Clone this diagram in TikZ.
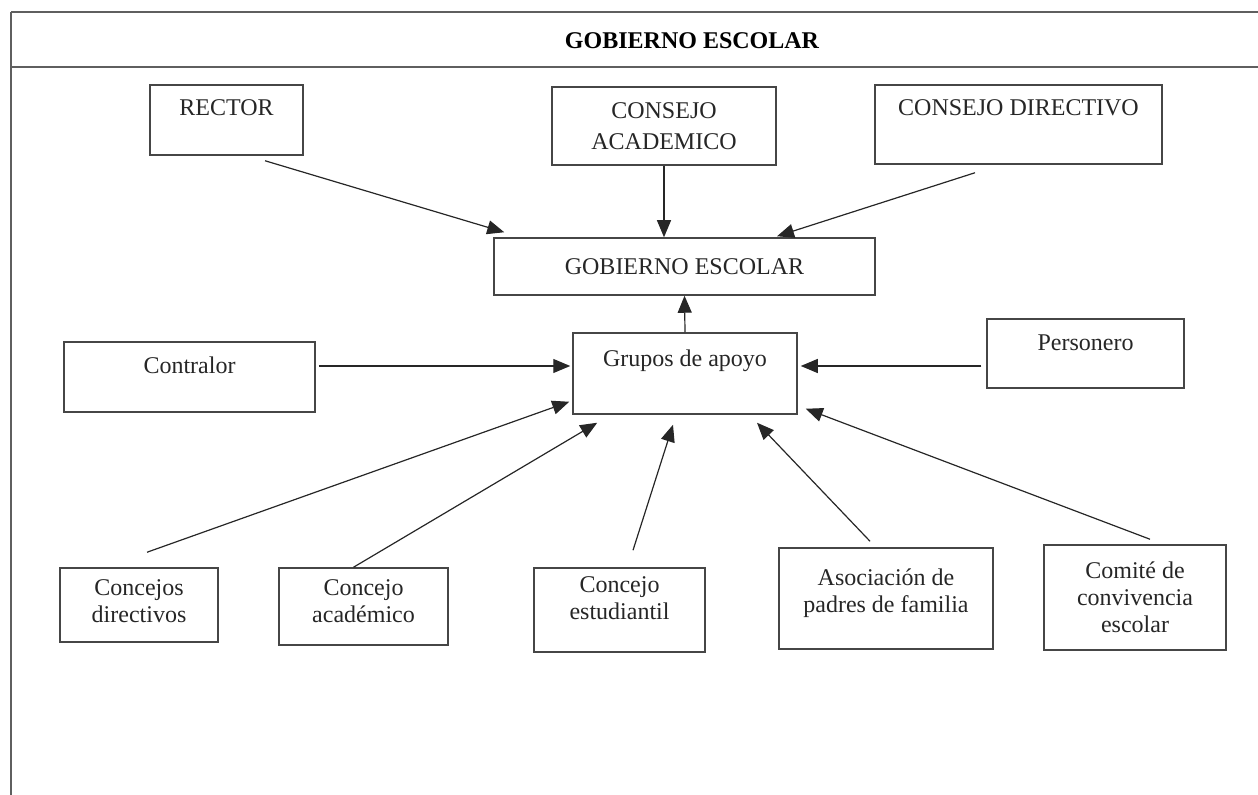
\documentclass[tikz,border=0pt]{standalone}
\usepackage{fontspec}
\setmainfont{Liberation Serif}
\definecolor{boxgray}{RGB}{70, 70, 70}
\definecolor{framegray}{RGB}{95, 95, 95}
\usetikzlibrary{arrows.meta, calc}

\tikzset{
  orgbox/.style={draw=boxgray, line width=0.75pt, align=center, inner sep=2pt,
    font=\fontsize{12}{13.5}\selectfont, text=black!85},
  textup/.style={text height=8.5pt, text depth=#1},
  arr/.style={-{Triangle[length=8.5pt, width=7pt]}, line width=0.6pt, draw=black!85},
}

\begin{document}
\begin{tikzpicture}[x=0.5pt, y=-0.5pt]
  \useasboundingbox (0,0) rectangle (1258,795);

  % marco y encabezado
  \draw[framegray, line width=1.4pt] (11,12) -- (1258,12);
  \draw[framegray, line width=0.8pt] (11,67) -- (1258,67);
  \draw[framegray, line width=0.8pt] (11,12) -- (11,795);
  \node[font=\fontsize{12}{13}\selectfont\bfseries] (header) at (692,41) {GOBIERNO ESCOLAR};

  % fila superior
  \node[orgbox, textup=12.5pt, minimum width=76.5pt, minimum height=35pt] (rector) at (226.5,120) {RECTOR};
  \node[orgbox, minimum width=112pt, minimum height=39pt] (consAcad) at (664,126) {CONSEJO\\[2pt]ACADEMICO};
  \node[orgbox, textup=17pt, minimum width=143.5pt, minimum height=39.5pt] (consDir) at (1018.5,124.5) {CONSEJO DIRECTIVO};

  % centro
  \node[orgbox, minimum width=190.5pt, minimum height=28.5pt] (gobierno) at (684.5,266.5) {GOBIERNO ESCOLAR};
  \node[orgbox, textup=15pt, minimum width=112pt, minimum height=40.5pt] (grupos) at (685,373.5) {Grupos de apoyo};
  \node[orgbox, textup=11.5pt, minimum width=125.5pt, minimum height=35pt] (contralor) at (189.5,377) {Contralor};
  \node[orgbox, textup=11pt, minimum width=98.5pt, minimum height=34.5pt] (personero) at (1085.5,353.5) {Personero};

  % fila inferior
  \node[orgbox, minimum width=79pt, minimum height=37pt] (concDir) at (139,605) {Concejos\\directivos\\[-9.5pt]};
  \node[orgbox, minimum width=84.5pt, minimum height=38.5pt] (concAcad) at (363.5,606.5) {Concejo\\acad\'emico\\[-8pt]};
  \node[orgbox, minimum width=85.5pt, minimum height=42pt] (concEst) at (619.5,610) {Concejo\\estudiantil\\[-2pt]};
  \node[orgbox, minimum width=107pt, minimum height=50.5pt] (asoc) at (886,598.5) {Asociaci\'on de\\padres de familia\\[-6pt]};
  \node[orgbox, minimum width=91pt, minimum height=52.5pt] (comite) at (1135,597.5) {Comit\'e de\\convivencia\\escolar};

  % flechas hacia gobierno escolar
  \draw[arr] ($(rector.south)+(38.5,5)$) -- ($(gobierno.north west)+(11,-5)$);
  \draw[arr] (consAcad.south) -- (consAcad.south |- gobierno.north);
  \draw[arr] ($(consDir.south)+(-43.5,8)$) -- ($(gobierno.north)+(92.5,-1)$);
  \draw[arr] (grupos.north) -- (gobierno.south);

  % flechas hacia grupos de apoyo
  \draw[arr] ($(contralor.east)+(3,-11)$) -- ($(grupos.west)+(-2,-7.5)$);
  \draw[arr] ($(personero.west)+(-5,12.5)$) -- ($(grupos.east)+(3,-7.5)$);
  \draw[arr] ($(concDir.north)+(8,-15)$) -- ($(grupos.south west)+(-3,-13)$);
  \draw[arr] ($(concAcad.north)+(-10,0)$) -- ($(grupos.south west)+(25,8)$);
  \draw[arr] ($(concEst.north)+(13.5,-17)$) -- ($(grupos.south)+(-12,10)$);
  \draw[arr] ($(asoc.north)+(-16,-6)$) -- ($(grupos.south)+(72,8)$);
  \draw[arr] ($(comite.north)+(15,-5)$) -- ($(grupos.south east)+(8,-6)$);
\end{tikzpicture}
\end{document}
